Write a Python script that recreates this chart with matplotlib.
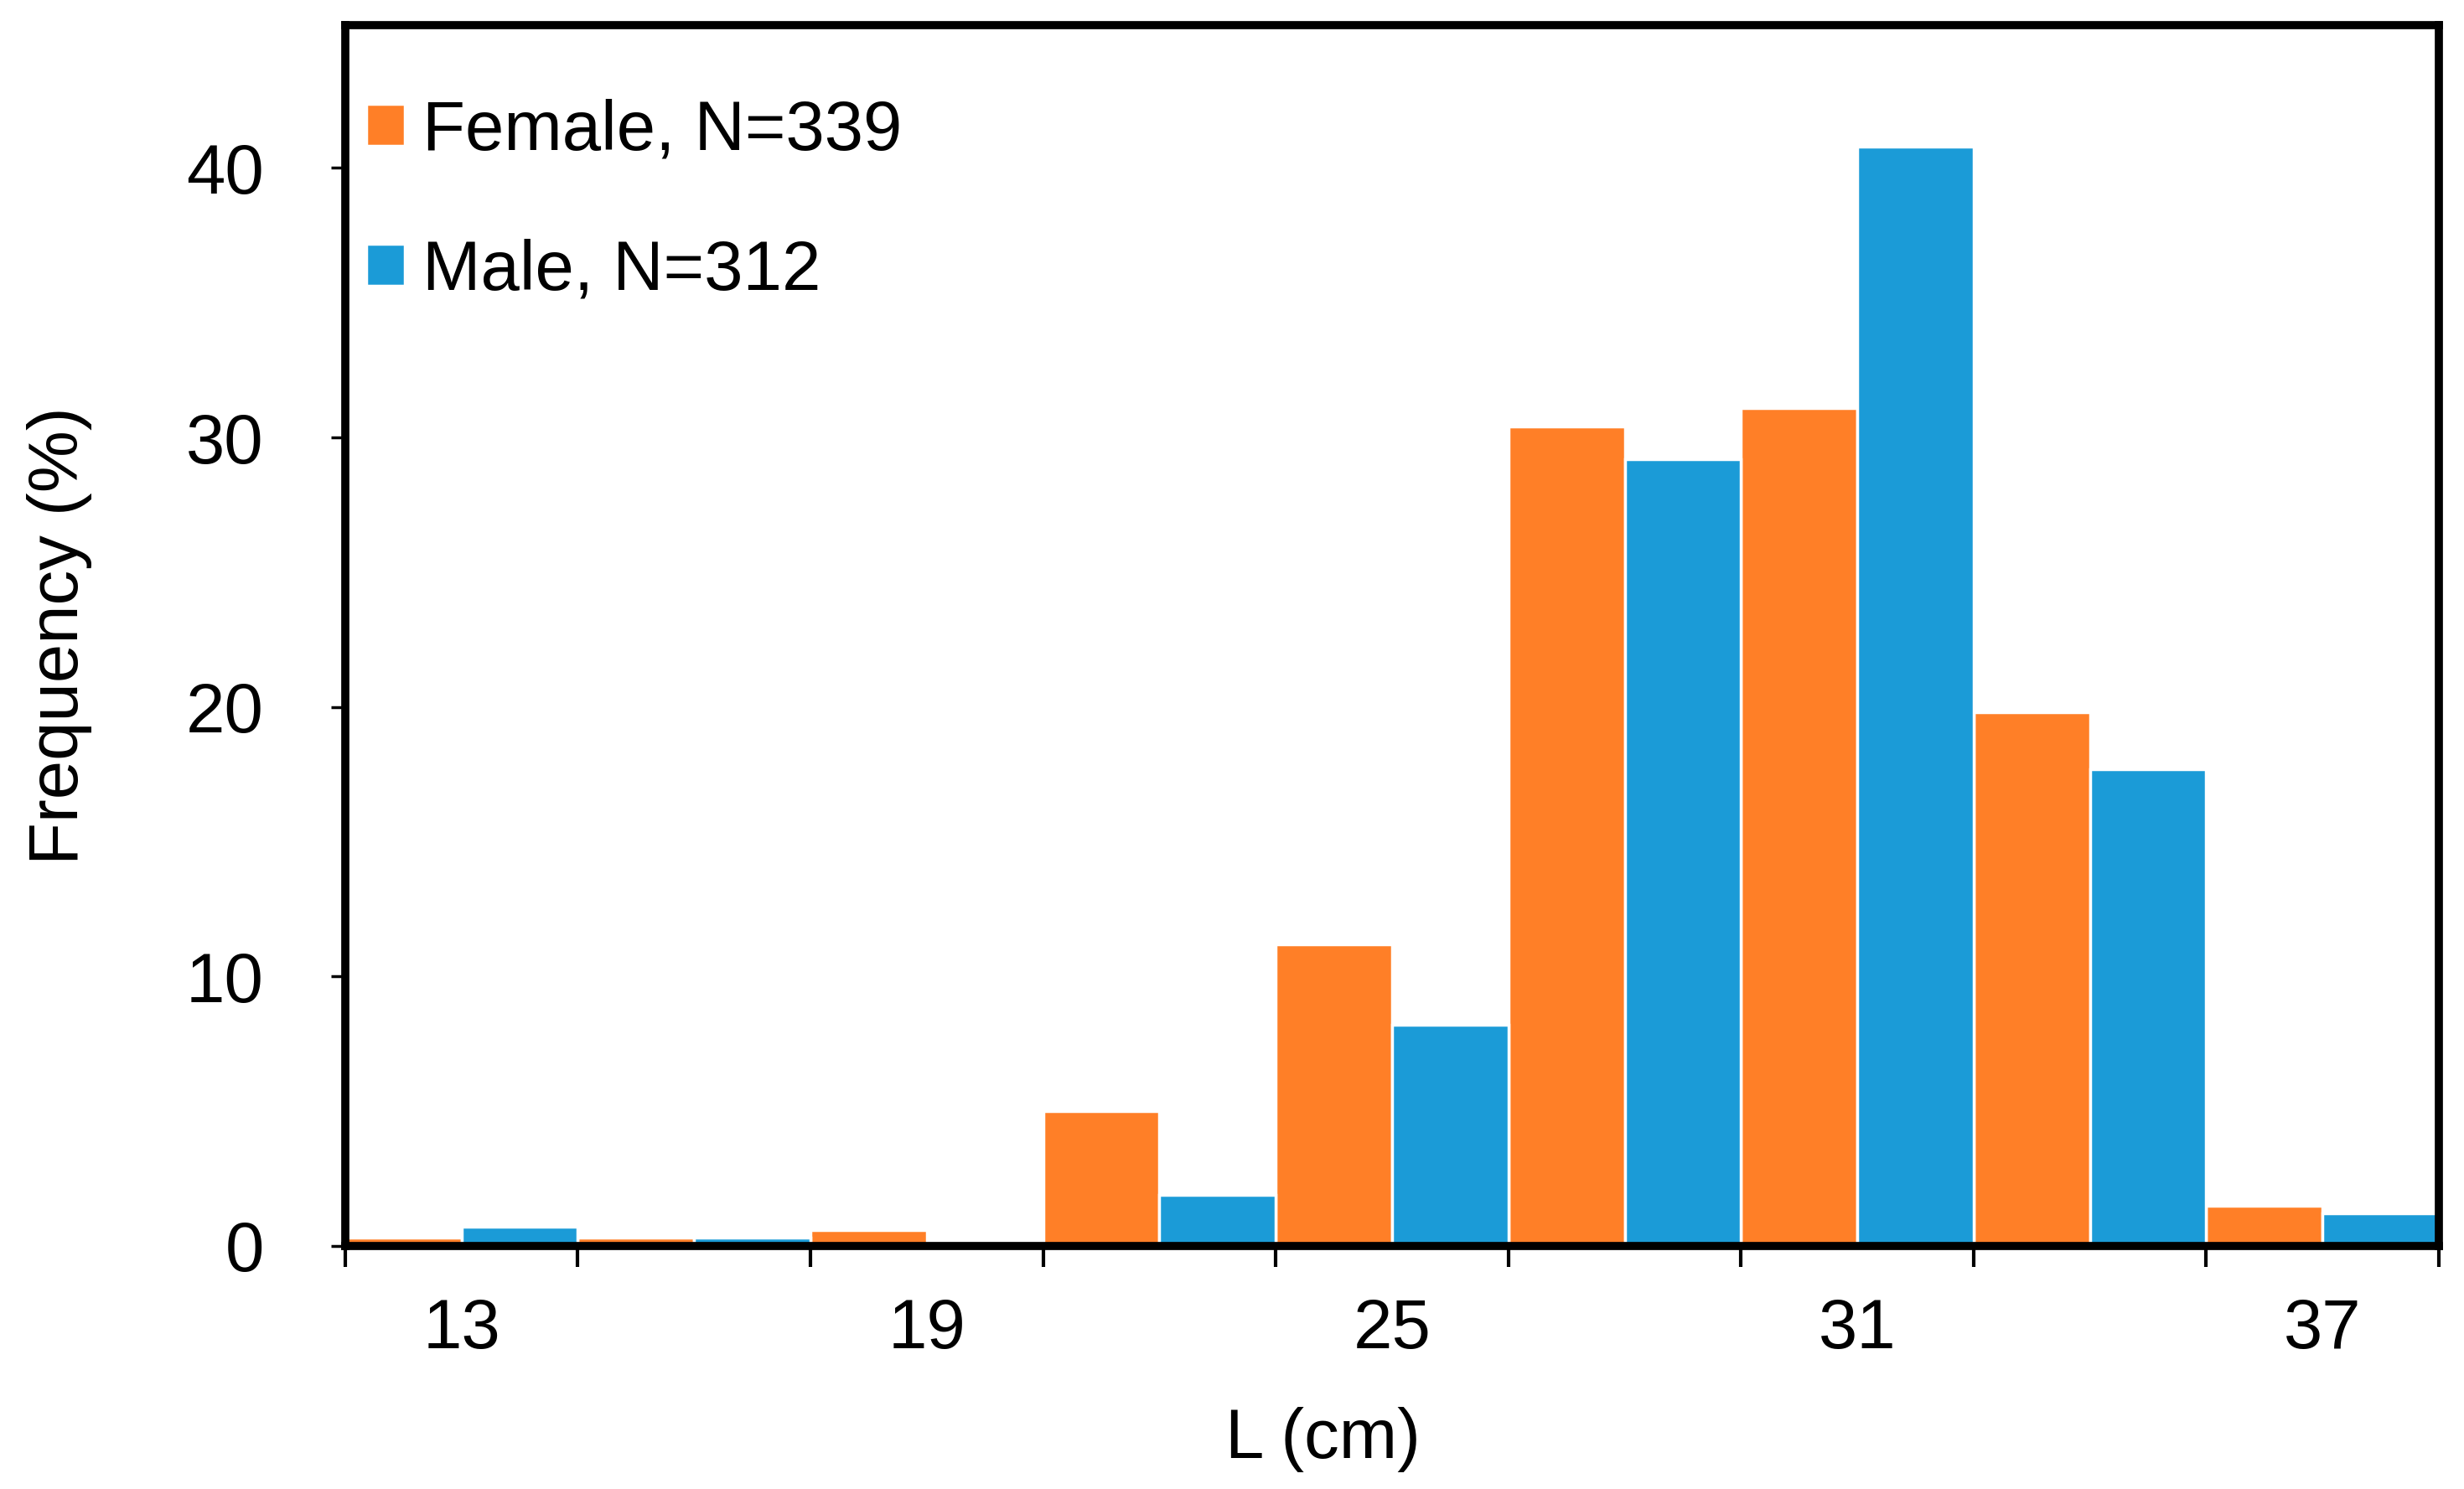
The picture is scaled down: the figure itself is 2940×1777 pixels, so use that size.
import numpy as np
import matplotlib
matplotlib.use("Agg")
import matplotlib.pyplot as plt
from matplotlib.ticker import FixedLocator, NullFormatter

plt.rcParams['font.family'] = ['Liberation Sans', 'DejaVu Sans']

# length classes (cm), labels shown only every other class
length_classes = [13, 16, 19, 22, 25, 28, 31, 34, 37]
shown_labels = [13, 19, 25, 31, 37]

# frequency (%) per class
female = [0.3, 0.3, 0.6, 5.0, 11.2, 30.4, 31.1, 19.8, 1.5]
male = [0.7, 0.3, 0.0, 1.9, 8.2, 29.2, 40.8, 17.7, 1.2]

female_label = "Female, N=339"
male_label = "Male, N=312"

orange = "#FF7F27"
blue = "#1B9BD7"

fig = plt.figure(figsize=(29.4, 17.77), dpi=100)
ax = fig.add_axes([0.1401, 0.1632, 0.8497, 0.8199])

n = len(length_classes)
centers = np.arange(n) + 0.5
ax.bar(centers - 0.25, female, width=0.5, color=orange, edgecolor="white",
       linewidth=2.5, label=female_label, zorder=2)
ax.bar(centers + 0.25, male, width=0.5, color=blue, edgecolor="white",
       linewidth=2.5, label=male_label, zorder=2)

ax.set_xlim(0, n)
ax.set_ylim(0, 45.3)

# boundaries get tick marks, class centres get the labels
ax.xaxis.set_major_locator(FixedLocator(np.arange(n + 1)))
ax.xaxis.set_major_formatter(NullFormatter())
label_pos = [centers[length_classes.index(v)] for v in shown_labels]
ax.xaxis.set_minor_locator(FixedLocator(label_pos))
ax.set_xticklabels([str(v) for v in shown_labels], minor=True)
ax.tick_params(axis="x", which="major", direction="out", length=18, width=3)
ax.tick_params(axis="x", which="minor", length=0, pad=44, labelsize=60)

ax.set_yticks([0, 10, 20, 30, 40])
ax.tick_params(axis="y", direction="out", length=12, width=2.5, pad=58,
               labelsize=60)

for side in ["left", "right", "top", "bottom"]:
    ax.spines[side].set_linewidth(7)
    ax.spines[side].set_zorder(3)

ax.set_ylabel("Frequency (%)", fontsize=60)
ax.yaxis.set_label_coords(-0.121, 0.5)
ax.set_xlabel("L (cm)", fontsize=60)
ax.xaxis.set_label_coords(0.467, -0.132)

ax.legend(loc="upper left", bbox_to_anchor=(0.010, 0.940), frameon=False,
          fontsize=60, handlelength=0.55, handleheight=0.55,
          handletextpad=0.25, labelspacing=1.07, borderpad=0,
          borderaxespad=0)

fig.savefig("out.png", dpi=100)
